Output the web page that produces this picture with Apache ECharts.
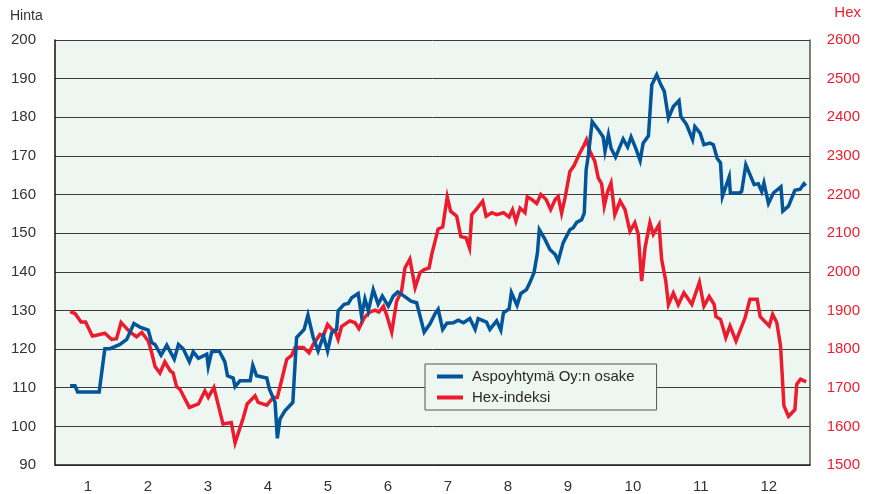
<!DOCTYPE html>
<html>
<head>
<meta charset="utf-8">
<script src="https://cdn.jsdelivr.net/npm/echarts@6/dist/echarts.min.js"></script>
<style>
  html, body { margin: 0; padding: 0; background: #fff; }
  #chart { width: 871px; height: 494px; }
</style>
</head>
<body>
<div id="chart"></div>
<script>
// trading-day position (0..200 across the year) and share price
var blueDays = [4.0,5.3,6.0,11.7,13.2,14.6,17.2,19.0,20.9,22.5,24.7,25.6,26.5,28.1,29.6,31.6,32.7,34.0,35.6,36.6,
  38.0,40.2,40.6,41.5,43.5,45.0,45.7,47.2,47.7,49.0,51.7,52.4,53.4,56.1,56.8,58.3,58.9,59.6,60.9,63.0,
  64.0,66.0,67.0,68.4,69.7,71.1,72.2,73.3,74.6,75.0,76.6,77.7,78.6,80.3,81.2,82.1,83.0,84.3,85.6,86.7,
  88.3,89.6,90.8,92.5,94.3,95.8,97.8,99.3,100.7,101.5,102.7,103.8,105.5,106.8,108.2,109.9,111.3,112.1,114.3,115.2,
  117.0,118.1,118.8,120.3,120.9,122.4,123.4,124.9,125.8,126.9,127.8,128.3,129.8,131.1,132.5,133.3,134.6,136.4,137.3,138.2,
  139.5,140.2,140.7,141.3,142.3,143.9,145.2,145.7,146.6,147.3,148.5,150.5,151.7,152.6,153.9,155.0,155.8,157.2,158.1,159.4,
  160.5,161.4,162.5,163.8,165.3,165.8,167.3,168.9,169.5,170.9,171.9,173.5,174.4,175.4,176.3,176.8,178.6,178.9,181.3,181.9,
  183.0,185.2,186.3,187.2,187.8,189.0,190.3,192.3,192.8,194.3,196.0,197.4,198.4,198.9];
var bluePrice = [110.5,110.5,108.9,108.9,120.1,120.1,121.2,122.5,126.6,125.7,124.9,121.7,121.2,118.4,121.0,117.4,121.2,120.0,116.7,119.3,
  117.6,118.7,115.5,119.3,119.5,116.7,113.1,112.5,110.3,111.8,111.8,115.8,113.1,112.5,109.6,106.2,96.9,101.9,104.0,106.2,
  123.0,125.1,128.8,123.0,119.5,123.4,119.5,124.3,125.1,129.9,131.6,131.8,133.3,134.4,128.6,133.0,129.9,135.4,131.6,133.7,
  131.1,133.7,134.8,133.7,132.4,132.0,124.4,126.5,129.2,130.3,125.1,126.7,126.8,127.5,126.8,127.9,125.1,127.9,127.0,125.1,
  127.3,124.9,129.4,130.4,134.6,131.3,134.4,135.4,137.2,139.8,144.9,150.9,148.4,145.8,144.5,142.8,147.5,150.9,151.4,152.8,
  153.5,155.2,166.4,170.3,178.9,176.8,174.9,171.2,175.5,172.0,169.7,174.4,172.3,174.9,171.8,168.8,173.3,175.2,188.4,191.0,
  188.4,186.7,179.8,182.8,184.3,180.2,178.1,174.2,177.6,175.9,172.9,173.3,172.9,169.4,168.2,159.5,164.6,160.4,160.4,160.8,
  167.7,162.6,162.8,160.8,163.0,157.7,160.4,162.0,155.7,157.0,161.1,161.4,162.8,162.3];

// Hex index
var redDays = [4.0,5.3,6.9,8.1,9.9,11.0,13.2,15.0,16.3,17.5,19.0,19.9,21.6,23.0,24.7,25.6,26.5,27.8,29.1,30.5,
  31.3,32.2,33.1,35.6,38.0,39.7,40.6,42.1,44.5,46.7,47.7,49.9,50.9,53.0,53.8,56.1,57.8,58.9,60.1,61.4,
  62.7,63.6,65.8,67.3,68.4,70.2,71.1,72.2,73.3,74.2,75.0,75.9,78.1,79.5,80.5,81.9,83.4,84.8,85.8,87.0,
  87.8,89.2,90.5,91.8,92.7,94.0,95.4,96.7,97.8,99.1,99.8,101.5,102.7,103.9,104.8,106.4,107.5,108.9,109.8,110.4,
  111.7,113.3,114.2,115.7,117.0,118.8,120.3,121.2,122.1,123.2,124.5,125.1,126.3,127.6,128.7,130.1,131.3,132.5,133.3,134.2,
  135.1,136.4,137.5,138.8,140.2,140.8,141.7,143.0,143.9,144.8,145.5,146.4,147.3,148.3,149.7,151.0,152.3,153.6,154.5,155.4,
  156.3,157.6,158.5,160.0,160.7,161.8,162.5,163.8,165.1,166.6,168.7,170.7,171.9,173.3,174.6,175.1,176.3,177.7,178.8,180.4,
  182.8,184.1,186.0,186.8,189.2,190.1,191.2,192.2,193.1,194.3,196.0,196.5,197.5,199.0];
var redHex = [1897,1892,1870,1870,1834,1836,1841,1825,1827,1869,1853,1844,1832,1843,1821,1791,1755,1738,1767,1744,
  1738,1703,1696,1649,1658,1692,1675,1701,1606,1610,1557,1623,1658,1679,1662,1655,1675,1675,1722,1774,
  1784,1804,1804,1790,1812,1838,1834,1864,1851,1847,1825,1858,1873,1868,1853,1881,1896,1901,1896,1911,
  1890,1844,1924,1950,2010,2033,1959,1998,2006,2010,2045,2111,2116,2194,2157,2144,2091,2088,2062,2148,
  2163,2183,2144,2153,2148,2153,2142,2161,2131,2165,2153,2194,2187,2177,2200,2187,2161,2187,2195,2152,
  2191,2260,2275,2303,2329,2342,2312,2286,2243,2228,2170,2208,2230,2148,2183,2161,2105,2127,2097,1976,
  2062,2127,2097,2122,2032,1976,1915,1945,1915,1946,1916,1973,1911,1936,1916,1884,1877,1830,1860,1821,
  1881,1929,1929,1884,1860,1890,1869,1808,1653,1626,1643,1709,1722,1715];

var monthPos = [8.7, 24.6, 40.5, 56.4, 72.3, 88.2, 104.1, 120.0, 135.9, 153.1, 171.1, 189.1];
var monthLabels = ['1','2','3','4','5','6','7','8','9','10','11','12'];

var FONT = '"Liberation Sans", Arial, sans-serif';
var BLUE = '#03559a';
var RED = '#ec1c2e';
var BG = '#eef6f1';

function zip(xs, ys) {
  return xs.map(function (x, i) { return [x, ys[i]]; });
}

var myChart = echarts.init(document.getElementById('chart'));
myChart.setOption({
  animation: false,
  grid: {
    left: 55, right: 61, top: 40, bottom: 28,
    show: true, backgroundColor: BG, borderWidth: 0
  },
  graphic: [
    { type: 'text', left: 10, top: 9, style: { text: 'Hinta', font: '14px ' + FONT, fill: '#333' } },
    { type: 'text', right: 10, top: 5, style: { text: 'Hex', font: '15px ' + FONT, fill: RED } }
  ],
  legend: {
    orient: 'vertical',
    left: 425, top: 364,
    data: ['Aspoyhtymä Oy:n osake', 'Hex-indeksi'],
    backgroundColor: BG,
    borderColor: '#555',
    borderWidth: 1,
    borderRadius: 0,
    padding: [5, 22, 5, 12],
    itemGap: 6,
    itemWidth: 26,
    itemHeight: 4,
    icon: 'rect',
    textStyle: { fontFamily: FONT, fontSize: 15, color: '#2a2a2a', padding: [0, 0, 0, 4] }
  },
  xAxis: {
    type: 'value',
    min: 0, max: 200,
    axisLine: { show: true, lineStyle: { color: '#222', width: 1.5 } },
    axisTick: { show: false },
    splitLine: { show: false },
    axisLabel: {
      customValues: monthPos,
      margin: 14,
      color: '#333',
      fontFamily: FONT,
      fontSize: 15,
      formatter: function (v) {
        var best = 0;
        for (var i = 1; i < monthPos.length; i++) {
          if (Math.abs(monthPos[i] - v) < Math.abs(monthPos[best] - v)) best = i;
        }
        return monthLabels[best];
      }
    }
  },
  yAxis: [
    {
      type: 'value',
      min: 90, max: 200, interval: 10,
      position: 'left',
      axisLine: { show: true, lineStyle: { color: '#111', width: 1.5 } },
      axisTick: { show: false },
      splitLine: { show: true, lineStyle: { color: '#3a3a3a', width: 1 } },
      axisLabel: { color: '#333', fontFamily: FONT, fontSize: 15, margin: 19, align: 'right' }
    },
    {
      type: 'value',
      min: 1500, max: 2600, interval: 100,
      position: 'right',
      axisLine: { show: true, lineStyle: { color: '#555', width: 1.5 } },
      axisTick: { show: false },
      splitLine: { show: false },
      axisLabel: {
        color: RED, fontFamily: FONT, fontSize: 15, margin: 50, align: 'right',
        formatter: function (v) { return String(v); }
      }
    }
  ],
  series: [
    {
      name: 'Hex-indeksi',
      type: 'line',
      yAxisIndex: 1,
      data: zip(redDays, redHex),
      showSymbol: false,
      lineStyle: { color: RED, width: 3.5, join: 'miter' },
      itemStyle: { color: RED }
    },
    {
      name: 'Aspoyhtymä Oy:n osake',
      type: 'line',
      yAxisIndex: 0,
      data: zip(blueDays, bluePrice),
      showSymbol: false,
      lineStyle: { color: BLUE, width: 3.5, join: 'miter' },
      itemStyle: { color: BLUE }
    }
  ]
});
</script>
</body>
</html>
